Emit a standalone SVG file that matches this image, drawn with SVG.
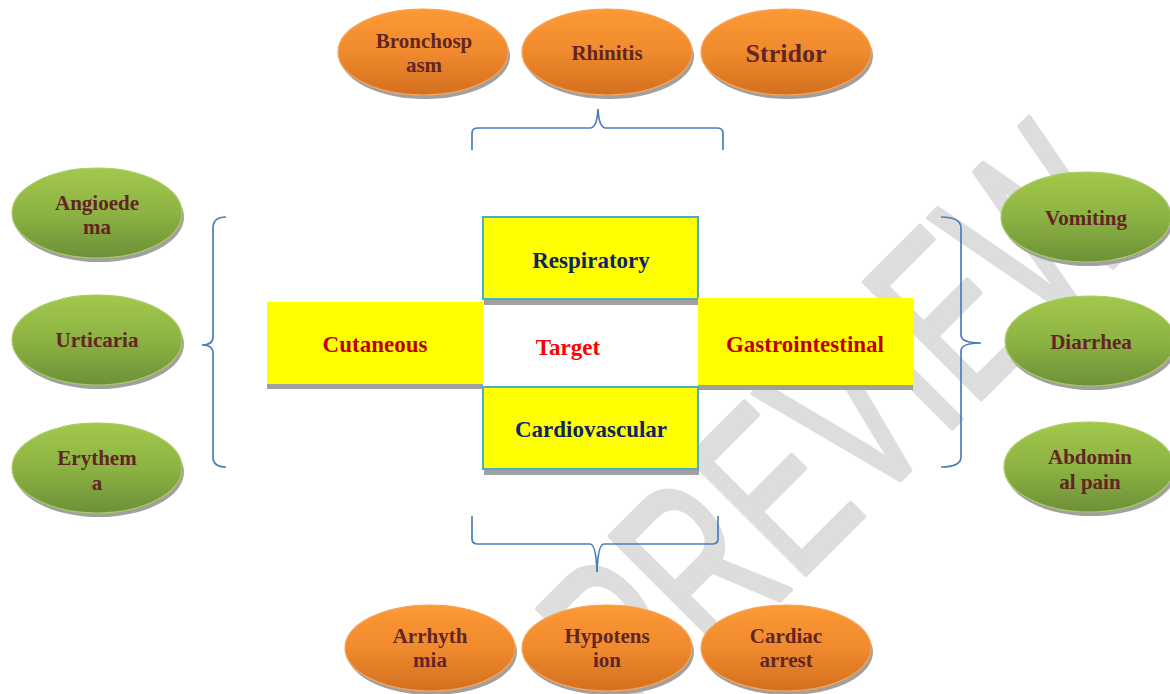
<svg xmlns="http://www.w3.org/2000/svg" width="1170" height="694" viewBox="0 0 1170 694">
<style>
.lbl{font-family:"Liberation Serif","Times New Roman",serif;font-weight:bold;text-anchor:middle}
.el{font-size:21px;fill:#632523}
.box{font-size:23px}
.navy{fill:#0f2463}
.dred{fill:#c00000}
.shadow{fill:#a0a0a0}
.brace{fill:none;stroke:#4a7ebb;stroke-width:1.7}
.wm{font-family:"Liberation Sans",Arial,sans-serif;font-size:240px;fill:#dddddd;stroke:#dddddd;stroke-width:5;stroke-linejoin:round;stroke-linecap:round}
</style>
<defs>
<linearGradient id="org" x1="0" y1="0" x2="0" y2="1">
<stop offset="0" stop-color="#fd9935"/>
<stop offset="0.5" stop-color="#f08a2e"/>
<stop offset="1" stop-color="#d36f1f"/>
</linearGradient>
<linearGradient id="grn" x1="0" y1="0" x2="0" y2="1">
<stop offset="0" stop-color="#a2c84b"/>
<stop offset="0.5" stop-color="#8cb343"/>
<stop offset="1" stop-color="#6d9037"/>
</linearGradient>
</defs>
<rect width="1170" height="694" fill="#ffffff"/>
<g id="watermark">
<text class="wm" transform="translate(645,735) rotate(-45)" textLength="710" lengthAdjust="spacingAndGlyphs">PREVIEW</text>
</g>
<g id="connectors">
<path class="brace" d="M472,150 V133 Q472,128 478,128 H590 Q597,128 598,109 Q599,128 606,128 H717 Q723,128 723,133 V150"/>
<path class="brace" d="M226,217 Q213,217 213,228 V337 Q213,345 202,345 Q213,345 213,353 V457 Q213,467 226,467"/>
<path class="brace" d="M941,217 Q961,217 961,228 V335 Q961,343 981,343 Q961,343 961,351 V457 Q961,467 941,467"/>
<path class="brace" d="M472,516 V539 Q472,544 478,544 H590 Q596,544 597,572 Q598,544 604,544 H712 Q718,544 718,539 V516"/>
</g>
<g id="respiratory">
<rect class="shadow" x="484" y="299" width="215" height="6"/>
<rect x="483" y="217" width="215" height="82" fill="#ffff00" stroke="#4bacc6" stroke-width="2"/>
<text class="lbl box navy" x="591" y="268">Respiratory</text>
</g>
<g id="cutaneous">
<rect class="shadow" x="267" y="383" width="216" height="6"/>
<rect x="267" y="302" width="216" height="82" fill="#ffff00"/>
<text class="lbl box dred" x="375" y="352">Cutaneous</text>
</g>
<g id="target">
<text class="lbl box" x="568" y="355" fill="#ff0000">Target</text>
</g>
<g id="gastrointestinal">
<rect class="shadow" x="698" y="384" width="215" height="6"/>
<rect x="698" y="298" width="215" height="87" fill="#ffff00"/>
<text class="lbl box dred" x="805" y="352">Gastrointestinal</text>
</g>
<g id="cardiovascular">
<rect class="shadow" x="484" y="469" width="215" height="6"/>
<rect x="483" y="387" width="215" height="82" fill="#ffff00" stroke="#4bacc6" stroke-width="2"/>
<text class="lbl box navy" x="591" y="437">Cardiovascular</text>
</g>
<g id="bronchospasm">
<ellipse class="shadow" cx="425" cy="56" rx="85" ry="43"/>
<ellipse cx="423" cy="52" rx="85" ry="43" fill="url(#org)" stroke="#f7a358" stroke-width="1.2"/>
<text class="lbl el" x="424" y="48">Bronchosp</text>
<text class="lbl el" x="424" y="72">asm</text>
</g>
<g id="rhinitis">
<ellipse class="shadow" cx="609" cy="56" rx="85" ry="43"/>
<ellipse cx="607" cy="52" rx="85" ry="43" fill="url(#org)" stroke="#f7a358" stroke-width="1.2"/>
<text class="lbl el" x="607" y="60">Rhinitis</text>
</g>
<g id="stridor">
<ellipse class="shadow" cx="788" cy="56" rx="85" ry="43"/>
<ellipse cx="786" cy="52" rx="85" ry="43" fill="url(#org)" stroke="#f7a358" stroke-width="1.2"/>
<text class="lbl" x="786" y="62" font-size="26" fill="#632523">Stridor</text>
</g>
<g id="angioedema">
<ellipse class="shadow" cx="99" cy="217" rx="85" ry="45"/>
<ellipse cx="97" cy="213" rx="85" ry="45" fill="url(#grn)" stroke="#a9cc62" stroke-width="1.2"/>
<text class="lbl el" x="97" y="210">Angioede</text>
<text class="lbl el" x="97" y="234">ma</text>
</g>
<g id="urticaria">
<ellipse class="shadow" cx="99" cy="344" rx="85" ry="45"/>
<ellipse cx="97" cy="340" rx="85" ry="45" fill="url(#grn)" stroke="#a9cc62" stroke-width="1.2"/>
<text class="lbl el" x="97" y="347">Urticaria</text>
</g>
<g id="erythema">
<ellipse class="shadow" cx="99" cy="472" rx="85" ry="45"/>
<ellipse cx="97" cy="468" rx="85" ry="45" fill="url(#grn)" stroke="#a9cc62" stroke-width="1.2"/>
<text class="lbl el" x="97" y="465">Erythem</text>
<text class="lbl el" x="97" y="490">a</text>
</g>
<g id="vomiting">
<ellipse class="shadow" cx="1088" cy="221" rx="85" ry="45"/>
<ellipse cx="1086" cy="217" rx="85" ry="45" fill="url(#grn)" stroke="#a9cc62" stroke-width="1.2"/>
<text class="lbl el" x="1086" y="225">Vomiting</text>
</g>
<g id="diarrhea">
<ellipse class="shadow" cx="1092" cy="345" rx="85" ry="45"/>
<ellipse cx="1090" cy="341" rx="85" ry="45" fill="url(#grn)" stroke="#a9cc62" stroke-width="1.2"/>
<text class="lbl el" x="1091" y="349">Diarrhea</text>
</g>
<g id="abdominal-pain">
<ellipse class="shadow" cx="1091" cy="471" rx="85" ry="45"/>
<ellipse cx="1089" cy="467" rx="85" ry="45" fill="url(#grn)" stroke="#a9cc62" stroke-width="1.2"/>
<text class="lbl el" x="1090" y="464">Abdomin</text>
<text class="lbl el" x="1090" y="489">al pain</text>
</g>
<g id="arrhythmia">
<ellipse class="shadow" cx="432" cy="652" rx="85" ry="43"/>
<ellipse cx="430" cy="648" rx="85" ry="43" fill="url(#org)" stroke="#f7a358" stroke-width="1.2"/>
<text class="lbl el" x="430" y="643">Arrhyth</text>
<text class="lbl el" x="430" y="667">mia</text>
</g>
<g id="hypotension">
<ellipse class="shadow" cx="609" cy="652" rx="85" ry="43"/>
<ellipse cx="607" cy="648" rx="85" ry="43" fill="url(#org)" stroke="#f7a358" stroke-width="1.2"/>
<text class="lbl el" x="607" y="643">Hypotens</text>
<text class="lbl el" x="607" y="667">ion</text>
</g>
<g id="cardiac-arrest">
<ellipse class="shadow" cx="788" cy="652" rx="85" ry="43"/>
<ellipse cx="786" cy="648" rx="85" ry="43" fill="url(#org)" stroke="#f7a358" stroke-width="1.2"/>
<text class="lbl el" x="786" y="643">Cardiac</text>
<text class="lbl el" x="786" y="667">arrest</text>
</g>
</svg>
